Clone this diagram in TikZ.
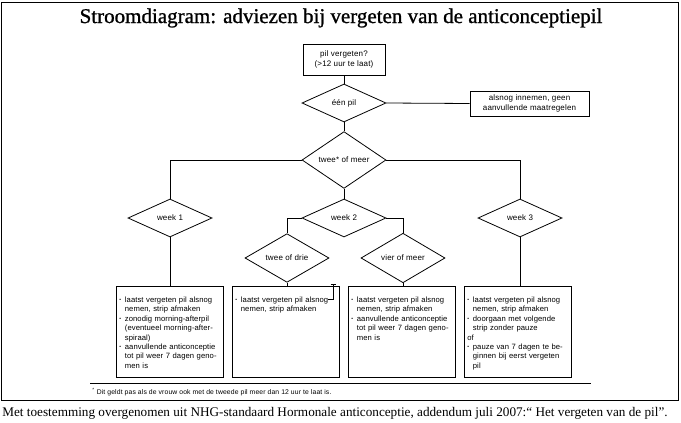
\documentclass[tikz,border=0pt]{standalone}
\usepackage{fontspec}
\usepackage{graphicx}
\setmainfont{Liberation Serif}
\setsansfont{Liberation Sans}
\newfontfamily\boxfont[LetterSpace=2]{Liberation Sans}
\newfontfamily\listfont[LetterSpace=1]{Liberation Sans}
\newfontfamily\titlefont[FakeBold=1]{Liberation Serif}
\usetikzlibrary{shapes.geometric}
\newcommand\bul{\makebox[5.5pt][l]{\raisebox{0.12em}{\scalebox{0.65}{•}}}}
\newcommand\hng{\hspace*{5.5pt}}
\begin{document}
\begin{tikzpicture}[x=1pt,y=-1pt,
  line width=0.8pt,
  box/.style={draw, inner sep=0pt, align=center, font=\boxfont\fontsize{8}{9.4}\selectfont},
  dia/.style={draw, diamond, inner sep=0pt, minimum width=84pt, minimum height=38pt, font=\boxfont\fontsize{8}{9.4}\selectfont},
  big/.style={draw, inner sep=0pt, minimum width=107pt, minimum height=91pt},
  btext/.style={anchor=north west, inner sep=0pt, text width=105pt, align=left, font=\listfont\fontsize{7.65}{9.4}\selectfont},
  conn/.style={draw, line width=0.8pt}
]
\useasboundingbox (0,0) rectangle (681,423);
% frame
\draw[line width=1pt] (1,2) rectangle (678,400);
% title
\node[font=\titlefont\fontsize{21}{24}\selectfont] (title) at (341,18) {Stroomdiagram: adviezen bij vergeten van de anticonceptiepil};
% nodes
\node[box, minimum width=82pt, minimum height=31pt] (start) at (344,59.5) {pil vergeten?\\(>12 uur te laat)};
\node[dia] (een) at (344,103) {één pil};
\node[box, minimum width=119pt, minimum height=25pt] (side) at (529.5,103.5) {alsnog innemen, geen\\aanvullende maatregelen};
\node[dia] (twee) at (344,160) {twee* of meer};
\node[dia] (w1) at (170,218) {week 1};
\node[dia] (w2) at (344,218) {week 2};
\node[dia] (w3) at (520,218) {week 3};
\node[dia] (drie) at (287,258) {twee of drie};
\node[dia] (vier) at (403,258) {vier of meer};
\node[big] (b1) at (169.5,331.5) {};
\node[big] (b2) at (285.5,331.5) {};
\node[big] (b3) at (401.5,331.5) {};
\node[big] (b4) at (517.5,331.5) {};
% box texts
\node[btext] (t1) at (119,296.5) {\bul laatst vergeten pil alsnog\\
\hng nemen, strip afmaken\\
\bul zonodig morning-afterpil\\
\hng (eventueel morning-after-\\
\hng spiraal)\\
\bul aanvullende anticonceptie\\
\hng tot pil weer 7 dagen geno-\\
\hng men is};
\node[btext] (t2) at (235,296.5) {\bul laatst vergeten pil alsnog\\
\hng nemen, strip afmaken};
\node[btext] (t3) at (351,296.5) {\bul laatst vergeten pil alsnog\\
\hng nemen, strip afmaken\\
\bul aanvullende anticonceptie\\
\hng tot pil weer 7 dagen geno-\\
\hng men is};
\node[btext] (t4) at (467,296.5) {\bul laatst vergeten pil alsnog\\
\hng nemen, strip afmaken\\
\bul doorgaan met volgende\\
\hng strip zonder pauze\\
of\\
\bul pauze van 7 dagen te be-\\
\hng ginnen bij eerst vergeten\\
\hng pil};
% connectors
\draw[conn] (start.south) -- (een.north);
\draw[conn] (een.east) -- (side.west);
\draw[conn] (een.south) -- (twee.north);
\draw[conn] (twee.west) -| (w1.north);
\draw[conn] (twee.east) -| (w3.north);
\draw[conn] (twee.south) -- (w2.north);
\draw[conn] (w2.west) -| (drie.north);
\draw[conn] (w2.east) -| (vier.north);
\draw[conn] (w1.south) -- (w1.south |- b1.north);
\draw[conn] (drie.south) -- (drie.south |- b2.north);
\draw[conn] (vier.south) -- (vier.south |- b3.north);
\draw[conn] (w3.south) -- (w3.south |- b4.north);
% cursor artifact
\draw[line width=0.7pt] (330.5,284) -- (335.5,284) (333,284) -- (333,299) -- (328,299);
% footnote
\coordinate (fl) at (90,383);
\coordinate (fr) at (591,383);
\draw[line width=0.8pt] (fl) -- (fr);
\node[anchor=west, inner sep=0pt, font=\boxfont\fontsize{6.8}{7}\selectfont] (fn) at (92,392) {\textsuperscript{*} Dit geldt pas als de vrouw ook met de tweede pil meer dan 12 uur te laat is.};
% caption
\node[anchor=west, inner sep=0pt, font=\fontsize{13.2}{15}\selectfont] (cap) at (2,413) {Met toestemming overgenomen uit NHG-standaard Hormonale anticonceptie, addendum juli 2007:“ Het vergeten van de pil”.};
\end{tikzpicture}
\end{document}
